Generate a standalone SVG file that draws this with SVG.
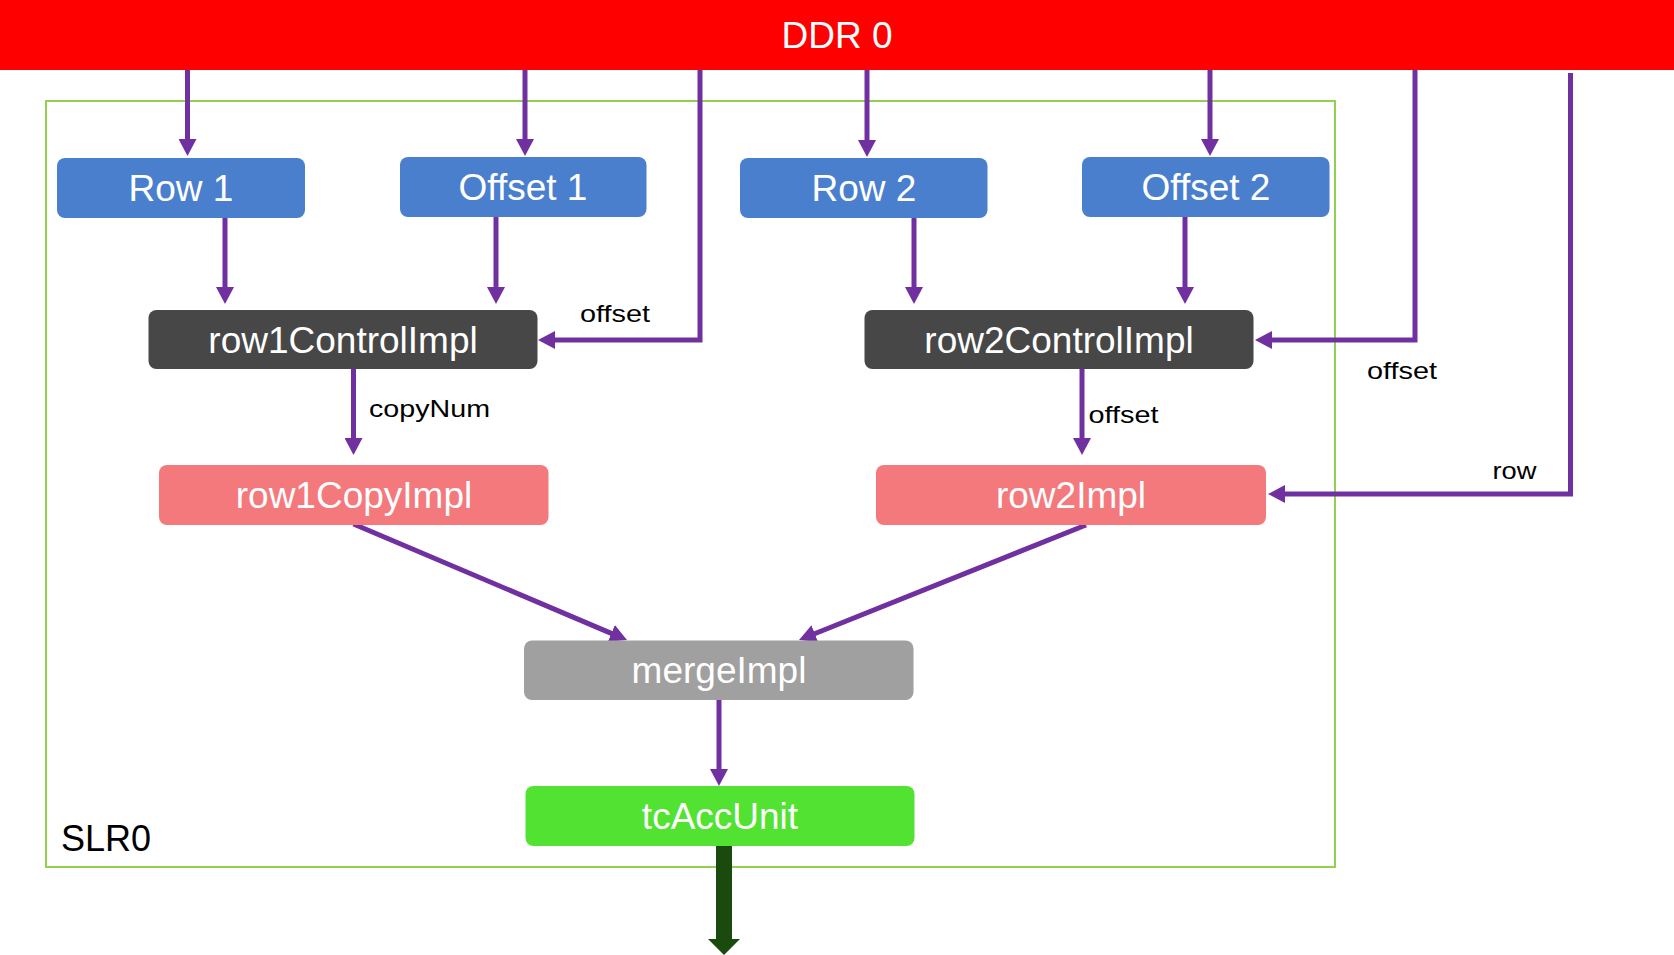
<svg xmlns="http://www.w3.org/2000/svg" width="1674" height="955" viewBox="0 0 1674 955">
<style>
  .box-text { font-family: "Liberation Sans", Arial, sans-serif; font-size: 37px; fill: #ffffff; text-anchor: middle; }
  .lbl { font-family: "Liberation Sans", Arial, sans-serif; font-size: 24px; fill: #000000; }
  .conn { fill: none; stroke: #7030a0; stroke-width: 5; marker-end: url(#arrow); }
  .blue { fill: #4a7fce; }
  .dark { fill: #474747; }
  .pink { fill: #f4797c; }
  .gray { fill: #a0a0a0; }
  .lime { fill: #52e232; }
</style>
<defs>
  <marker id="arrow" markerUnits="userSpaceOnUse" markerWidth="17" markerHeight="18" refX="7" refY="9" orient="auto">
    <path d="M0,0 L17,9 L0,18 Z" fill="#7030a0"/>
  </marker>
  <marker id="arrowBig" markerUnits="userSpaceOnUse" markerWidth="16" markerHeight="32" refX="4" refY="16" orient="auto">
    <path d="M0,0 L16,16 L0,32 Z" fill="#1a4a0e"/>
  </marker>
</defs>
<rect width="1674" height="955" fill="#ffffff"/>

<g id="slr0">
  <rect x="46" y="101" width="1289" height="766" fill="none" stroke="#92d050" stroke-width="2"/>
  <text x="61" y="851" font-family="Liberation Sans, Arial, sans-serif" font-size="36" fill="#000000">SLR0</text>
</g>

<g id="ddr0">
  <rect x="0" y="0" width="1674" height="70" fill="#ff0000"/>
  <text class="box-text" x="837" y="48">DDR 0</text>
</g>

<g id="connectors">
  <path class="conn" d="M187.5,70 V146"/>
  <path class="conn" d="M525,70 V146"/>
  <path class="conn" d="M867,70 V147"/>
  <path class="conn" d="M1210,70 V146"/>
  <path class="conn" d="M700,70 V340 H548"/>
  <path class="conn" d="M1415,70 V340 H1265"/>
  <path class="conn" d="M1570.5,73 V494 H1278"/>
  <path class="conn" d="M225,218 V294"/>
  <path class="conn" d="M496,217 V294"/>
  <path class="conn" d="M914,218 V294"/>
  <path class="conn" d="M1185,217 V294"/>
  <path class="conn" d="M353.5,369 V445"/>
  <path class="conn" d="M1082,369 V445"/>
  <path class="conn" d="M353.5,524 L617.8,636.1"/>
  <path class="conn" d="M1086,525 L808.3,636.3"/>
  <path class="conn" d="M719,700 V776"/>
  <path d="M724,846 V943" fill="none" stroke="#1a4a0e" stroke-width="16" marker-end="url(#arrowBig)"/>
  <text class="lbl" x="580" y="322" textLength="70" lengthAdjust="spacingAndGlyphs">offset</text>
  <text class="lbl" x="369" y="417" textLength="121" lengthAdjust="spacingAndGlyphs">copyNum</text>
  <text class="lbl" x="1367" y="378.5" textLength="70" lengthAdjust="spacingAndGlyphs">offset</text>
  <text class="lbl" x="1088.5" y="423" textLength="70" lengthAdjust="spacingAndGlyphs">offset</text>
  <text class="lbl" x="1492.5" y="479" textLength="44" lengthAdjust="spacingAndGlyphs">row</text>
</g>

<g id="row1">
  <rect class="blue" x="57" y="158" width="248" height="60" rx="8"/>
  <text class="box-text" x="181" y="201">Row 1</text>
</g>
<g id="offset1">
  <rect class="blue" x="400" y="157" width="246.5" height="60" rx="8"/>
  <text class="box-text" x="523" y="200">Offset 1</text>
</g>
<g id="row2">
  <rect class="blue" x="740" y="158" width="247.5" height="60" rx="8"/>
  <text class="box-text" x="864" y="201">Row 2</text>
</g>
<g id="offset2">
  <rect class="blue" x="1082" y="157" width="247.5" height="60" rx="8"/>
  <text class="box-text" x="1206" y="200">Offset 2</text>
</g>
<g id="row1ControlImpl">
  <rect class="dark" x="148.5" y="310" width="389" height="59" rx="8"/>
  <text class="box-text" x="343" y="353">row1ControlImpl</text>
</g>
<g id="row2ControlImpl">
  <rect class="dark" x="864.5" y="310" width="389" height="59" rx="8"/>
  <text class="box-text" x="1059" y="353">row2ControlImpl</text>
</g>
<g id="row1CopyImpl">
  <rect class="pink" x="159" y="465" width="389.5" height="60" rx="8"/>
  <text class="box-text" x="354" y="508">row1CopyImpl</text>
</g>
<g id="row2Impl">
  <rect class="pink" x="876" y="465" width="390" height="60" rx="8"/>
  <text class="box-text" x="1071" y="508">row2Impl</text>
</g>
<g id="mergeImpl">
  <rect class="gray" x="524" y="640.5" width="389.5" height="59.5" rx="8"/>
  <text class="box-text" x="719" y="683">mergeImpl</text>
</g>
<g id="tcAccUnit">
  <rect class="lime" x="525.5" y="786" width="389" height="60" rx="8"/>
  <text class="box-text" x="720" y="829">tcAccUnit</text>
</g>
</svg>
